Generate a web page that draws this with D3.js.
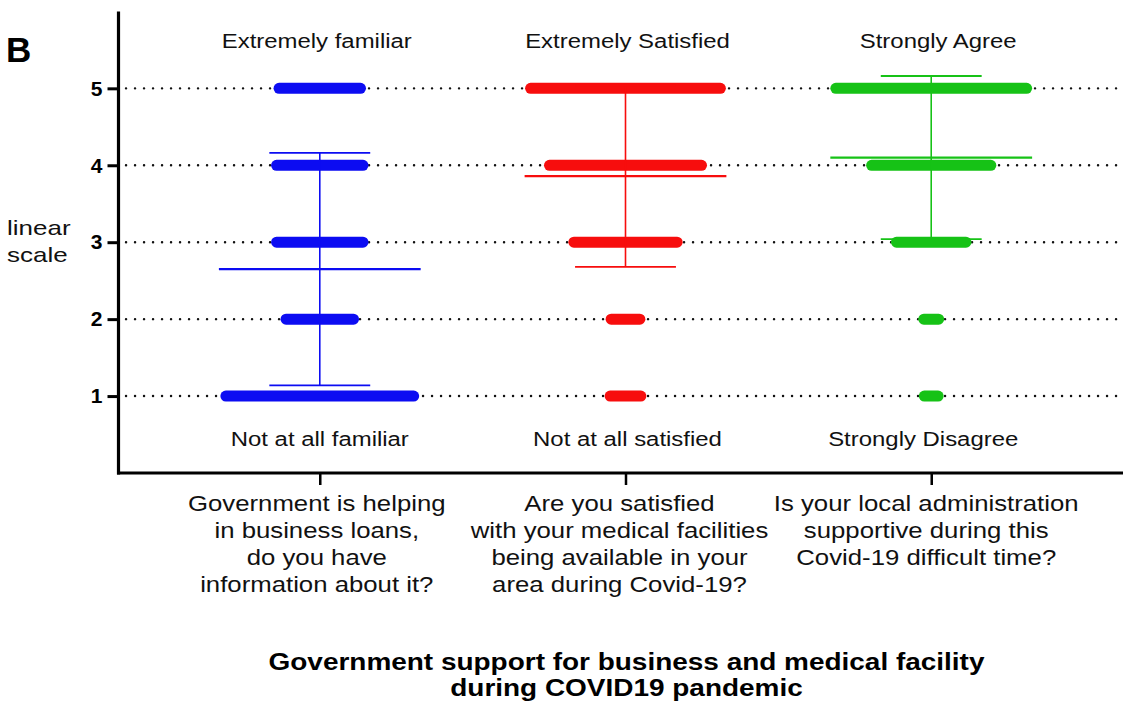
<!DOCTYPE html>
<html>
<head>
<meta charset="utf-8">
<script src="https://cdn.jsdelivr.net/npm/d3@7"></script>
<style>
  html, body { margin: 0; padding: 0; background: #fff; }
  svg { display: block; font-family: "Liberation Sans", Arial, sans-serif; }
</style>
</head>
<body>
<svg id="chart" width="1123" height="704"></svg>
<script>
// Likert response levels (1 = lowest, 5 = highest)
const levels = [1, 2, 3, 4, 5];
const yTicks = [1, 2, 3, 4, 5];

// Questions shown on the x axis (one line per array entry)
const questions = [
  ["Government is helping", "in business loans,", "do you have", "information about it?"],
  ["Are you satisfied", "with your medical facilities", "being available in your", "area during Covid-19?"],
  ["Is your local administration", "supportive during this", "Covid-19 difficult time?"]
];
const topLabels = ["Extremely familiar", "Extremely Satisfied", "Strongly Agree"];
const bottomLabels = ["Not at all familiar", "Not at all satisfied", "Strongly Disagree"];
const colors = ["#0c0cf2", "#f70d0d", "#16c216"];

// Number of responses at each level 1..5
const countsLoans = [200, 79, 98, 98, 93];
const countsMedical = [42, 40, 115, 164, 202];
const countsAdmin = [25, 26, 81, 131, 203];
const counts = [countsLoans, countsMedical, countsAdmin];

// Mean and standard deviation per question
const means = [2.65, 3.86, 4.10];
const sds = [1.51, 1.18, 1.06];

const svg = d3.select("#chart");

const x = d3.scalePoint()
  .domain(d3.range(questions.length))
  .range([118, 1133])
  .padding(0.66);
const step = x.step();

const y = d3.scaleLinear().domain([0, 6]).range([473, 11.4]);

const maxCount = d3.max(counts.flat());
const spread = d3.scaleLinear().domain([0, maxCount]).range([0, step * 0.66]);

// Horizontally stretched text helper (cx = centre / anchor x)
function stretchedText(parent, cx, sx, attrs) {
  const g = parent.append("g").attr("transform", `translate(${cx},0) scale(${sx},1)`);
  const t = g.append("text");
  Object.entries(attrs).forEach(([k, v]) => t.attr(k, v));
  return t;
}

// Dotted reference lines at each level
svg.append("g").selectAll("line")
  .data(yTicks)
  .join("line")
  .attr("x1", 126).attr("x2", 1121)
  .attr("y1", d => y(d)).attr("y2", d => y(d))
  .attr("stroke", "#111")
  .attr("stroke-width", 2.4)
  .attr("stroke-linecap", "round")
  .attr("stroke-dasharray", "0.1,8.9");

// Stacked response bands, then mean and SD error bars
questions.forEach((q, i) => {
  const g = svg.append("g");
  g.selectAll("rect")
    .data(levels.map((lv, k) => ({ lv, n: counts[i][k] })))
    .join("rect")
    .attr("x", d => x(i) - spread(d.n) / 2)
    .attr("y", d => y(d.lv) - 5.5)
    .attr("width", d => spread(d.n))
    .attr("height", 11)
    .attr("rx", 5.5)
    .attr("fill", colors[i]);

  const m = means[i], s = sds[i];
  const eb = svg.append("g").attr("stroke", colors[i]);
  eb.append("line")
    .attr("x1", x(i)).attr("x2", x(i))
    .attr("y1", y(m + s)).attr("y2", y(m - s))
    .attr("stroke-width", 1.6);
  eb.append("line")
    .attr("x1", x(i) - step * 0.33).attr("x2", x(i) + step * 0.33)
    .attr("y1", y(m)).attr("y2", y(m))
    .attr("stroke-width", 2.2);
  [m + s, m - s].forEach(v => {
    eb.append("line")
      .attr("x1", x(i) - step * 0.165).attr("x2", x(i) + step * 0.165)
      .attr("y1", y(v)).attr("y2", y(v))
      .attr("stroke-width", 1.8);
  });
});

// Y axis
const yAxis = svg.append("g")
  .attr("transform", "translate(118.5,0)")
  .call(d3.axisLeft(y).tickValues(yTicks).tickFormat(d3.format("d"))
    .tickSize(11).tickSizeOuter(0).tickPadding(5));
yAxis.select(".domain").attr("stroke", "#000").attr("stroke-width", 3.2)
  .attr("d", `M0,${y(6)}V${y(0) + 1.6}`);
yAxis.selectAll(".tick line").attr("stroke", "#000").attr("stroke-width", 3);
yAxis.selectAll(".tick text")
  .attr("fill", "#000")
  .style("font-family", "'Liberation Sans', Arial, sans-serif")
  .style("font-size", "21px").style("font-weight", "bold");

// X axis
const xAxis = svg.append("g")
  .attr("transform", `translate(0,${y(0)})`)
  .call(d3.axisBottom(x).tickSize(12).tickSizeOuter(0).tickFormat(() => ""));
xAxis.select(".domain").attr("stroke", "#000").attr("stroke-width", 3.2)
  .attr("d", "M117,0H1123");
xAxis.selectAll(".tick line").attr("stroke", "#000").attr("stroke-width", 2.5);

// Question labels under the axis
const questionShift = [-3, -6, -5];
questions.forEach((lines, i) => {
  const t = stretchedText(svg, x(i) + questionShift[i], 1.12, {
    "text-anchor": "middle", "font-size": 23, "fill": "#111"
  });
  lines.forEach((ln, k) => {
    t.append("tspan").attr("x", 0).attr("y", 511 + k * 27).text(ln);
  });
});

// Scale anchor labels above and below each column
const topShift = [-3, 2, 7];
const bottomShift = [0, 2, -8];
topLabels.forEach((lab, i) => {
  stretchedText(svg, x(i) + topShift[i], 1.14, {
    "text-anchor": "middle", "font-size": 21, "fill": "#111", "y": 48
  }).text(lab);
});
bottomLabels.forEach((lab, i) => {
  stretchedText(svg, x(i) + bottomShift[i], 1.14, {
    "text-anchor": "middle", "font-size": 21, "fill": "#111", "y": 446
  }).text(lab);
});

// Y axis title
const yTitle = stretchedText(svg, 7, 1.3, { "font-size": 20, "fill": "#111" });
["linear", "scale"].forEach((ln, k) => {
  yTitle.append("tspan").attr("x", 0).attr("y", 235 + k * 27).text(ln);
});

// Panel letter
svg.append("text")
  .attr("x", 6).attr("y", 62)
  .attr("font-size", 35)
  .attr("font-weight", 900)
  .attr("fill", "#000")
  .text("B");

// Chart title
const title = stretchedText(svg, 626.5, 1.19, {
  "text-anchor": "middle", "font-size": 23.5, "font-weight": "bold", "fill": "#000"
});
["Government support for business and medical facility", "during COVID19 pandemic"].forEach((ln, k) => {
  title.append("tspan").attr("x", 0).attr("y", 670 + k * 26).text(ln);
});
</script>
</body>
</html>
